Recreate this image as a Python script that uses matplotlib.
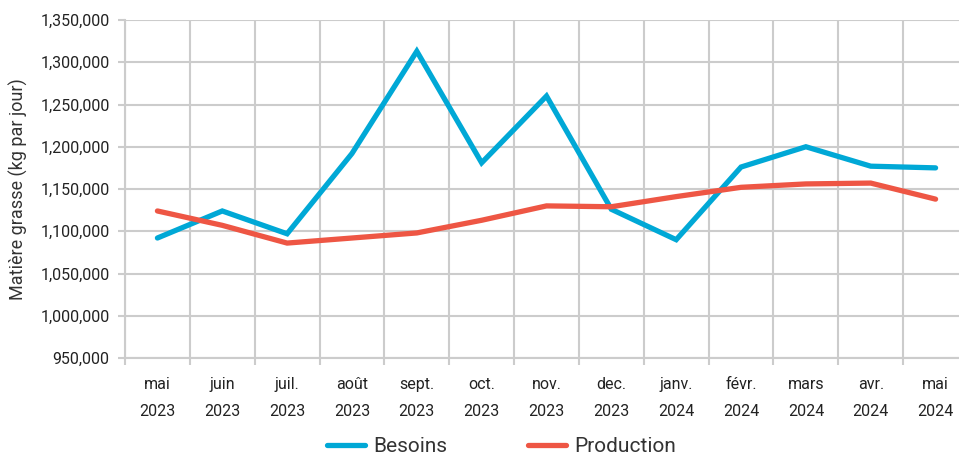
import matplotlib
matplotlib.use("Agg")
import matplotlib.pyplot as plt
from matplotlib.ticker import FuncFormatter, MultipleLocator, FixedLocator

plt.rcParams['font.family'] = ['Roboto', 'DejaVu Sans']

months = ["mai\n2023", "juin\n2023", "juil.\n2023", "août\n2023", "sept.\n2023", "oct.\n2023",
          "nov.\n2023", "dec.\n2023", "janv.\n2024", "févr.\n2024", "mars\n2024", "avr.\n2024", "mai\n2024"]
besoins = [1092000, 1124000, 1097000, 1192000, 1313000, 1181000, 1260000,
           1126000, 1090000, 1176000, 1200000, 1177000, 1175000]
production = [1124000, 1107000, 1086000, 1092000, 1098000, 1113000, 1130000,
              1129000, 1141000, 1152000, 1156000, 1157000, 1138000]

fig = plt.figure(figsize=(9.59, 4.59), dpi=100)
ax = fig.add_axes([125/959, 101/459, (968-125)/959, (358-20)/459])

x = list(range(len(months)))
ax.plot(x, besoins, color="#00A8D6", lw=3.8, solid_capstyle="round", solid_joinstyle="miter", label="Besoins", zorder=3)
ax.plot(x, production, color="#EE5644", lw=3.8, solid_capstyle="round", solid_joinstyle="miter", label="Production", zorder=3)

ax.set_xlim(-0.5, len(months) - 0.5)
ax.set_ylim(950000, 1350000)
ax.yaxis.set_major_locator(MultipleLocator(50000))
ax.yaxis.set_major_formatter(FuncFormatter(lambda v, p: f"{int(v):,}"))
ax.set_xticks(x)
ax.set_xticklabels(months, linespacing=1.95)
ax.xaxis.set_minor_locator(FixedLocator([i - 0.5 for i in range(len(months) + 1)]))

ax.grid(True, which="major", axis="y", color="#cccccc", lw=1.5)
ax.grid(True, which="minor", axis="x", color="#cccccc", lw=1.5)
ax.set_axisbelow(True)
for s in ["top", "right"]:
    ax.spines[s].set_visible(False)
for s in ["left", "bottom"]:
    ax.spines[s].set_color("#cccccc")
    ax.spines[s].set_linewidth(1.5)

ax.tick_params(axis="x", which="major", length=0, pad=14, labelsize=11.5, colors="#222222")
ax.tick_params(axis="x", which="minor", length=5, width=1.5, color="#cccccc")
ax.tick_params(axis="y", which="major", length=5, width=1.5, color="#cccccc", labelsize=11.5, labelcolor="#222222", pad=6)

ax.set_ylabel("Matière grasse (kg par jour)", fontsize=13, color="#333333", labelpad=9)

leg = fig.legend(loc="lower center", bbox_to_anchor=(0.523, -0.035), ncol=2, frameon=False,
                 fontsize=15, handlelength=1.8, columnspacing=3.9, handletextpad=0.4)
for t in leg.get_texts():
    t.set_color("#333333")

fig.savefig("out.png", dpi=100)
